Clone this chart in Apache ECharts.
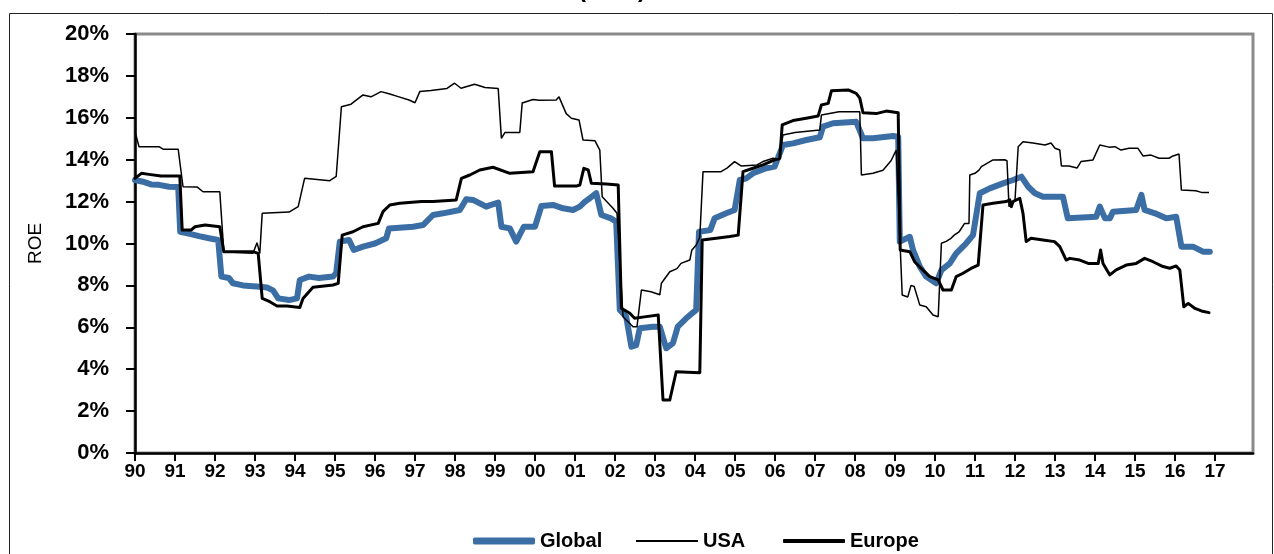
<!DOCTYPE html>
<html lang="en">
<head>
    <meta charset="UTF-8">
    <script src="https://cdn.jsdelivr.net/npm/echarts@6/dist/echarts.min.js"></script>
    <title>ROE</title>
    <style>
        html, body { margin: 0; padding: 0; background: #fff; }
        #main { width: 1274px; height: 554px; }
    </style>
</head>
<body>
    <div id="main"></div>
    <script>
        // [year, ROE %]
        var globalRoe = [
            [1990.0, 13.03], [1990.2, 12.95], [1990.4, 12.82], [1990.6, 12.8], [1990.85, 12.71], [1991.08, 12.7],
            [1991.13, 10.56], [1991.4, 10.45], [1991.6, 10.35], [1991.85, 10.25], [1992.08, 10.17],
            [1992.16, 8.42], [1992.35, 8.35], [1992.45, 8.1], [1992.7, 8.0], [1993.12, 7.94], [1993.3, 7.9],
            [1993.45, 7.76], [1993.58, 7.38], [1993.85, 7.3], [1994.05, 7.38], [1994.12, 8.26], [1994.35, 8.42],
            [1994.6, 8.35], [1994.95, 8.42], [1995.03, 8.6], [1995.12, 10.09], [1995.35, 10.17], [1995.47, 9.69],
            [1995.7, 9.85], [1996.0, 10.0], [1996.28, 10.25], [1996.35, 10.72], [1996.95, 10.8], [1997.2, 10.88],
            [1997.45, 11.36], [1997.7, 11.44], [1998.12, 11.6], [1998.28, 12.11], [1998.45, 12.08], [1998.78, 11.76],
            [1998.9, 11.84], [1999.08, 11.95], [1999.16, 10.8], [1999.37, 10.72], [1999.53, 10.09], [1999.72, 10.8],
            [2000.0, 10.8], [2000.16, 11.79], [2000.45, 11.84], [2000.7, 11.68], [2000.95, 11.6], [2001.12, 11.76],
            [2001.25, 12.0], [2001.37, 12.16], [2001.53, 12.4], [2001.66, 11.36], [2001.9, 11.2], [2002.03, 11.04],
            [2002.12, 6.83], [2002.28, 6.51], [2002.41, 5.07], [2002.53, 5.15], [2002.62, 5.95], [2002.95, 6.03],
            [2003.12, 6.03], [2003.28, 5.0], [2003.45, 5.25], [2003.57, 6.03], [2003.78, 6.43], [2004.03, 6.83],
            [2004.1, 10.56], [2004.38, 10.64], [2004.49, 11.2], [2004.78, 11.44], [2004.99, 11.6], [2005.12, 13.03],
            [2005.28, 13.11], [2005.45, 13.35], [2005.78, 13.59], [2005.99, 13.67], [2006.2, 14.7], [2006.45, 14.78],
            [2006.78, 14.94], [2007.12, 15.07], [2007.2, 15.58], [2007.45, 15.74], [2008.03, 15.81], [2008.2, 15.02],
            [2008.45, 15.02], [2008.95, 15.13], [2009.08, 15.1], [2009.12, 10.09], [2009.37, 10.32], [2009.45, 9.69],
            [2009.62, 8.9], [2009.78, 8.42], [2010.03, 8.1], [2010.16, 8.73], [2010.37, 9.05], [2010.53, 9.53],
            [2010.78, 10.01], [2010.95, 10.4], [2011.12, 12.4], [2011.37, 12.63], [2011.7, 12.87], [2011.95, 13.03],
            [2012.16, 13.19], [2012.33, 12.71], [2012.5, 12.4], [2012.7, 12.23], [2013.2, 12.23], [2013.32, 11.2],
            [2014.03, 11.28], [2014.12, 11.76], [2014.25, 11.2], [2014.37, 11.2], [2014.45, 11.52], [2015.03, 11.6],
            [2015.16, 12.32], [2015.24, 11.6], [2015.5, 11.44], [2015.78, 11.2], [2016.03, 11.28], [2016.16, 9.85],
            [2016.45, 9.85], [2016.7, 9.61], [2016.87, 9.61]
        ];
        var usaRoe = [
            [1990.0, 15.35], [1990.05, 15.3], [1990.1, 14.62], [1990.6, 14.62], [1990.7, 14.5], [1991.08, 14.5],
            [1991.2, 12.71], [1991.55, 12.7], [1991.7, 12.47], [1992.12, 12.47], [1992.22, 9.61], [1992.95, 9.53],
            [1993.05, 10.04], [1993.12, 9.53], [1993.18, 11.44], [1993.85, 11.5], [1994.08, 11.76], [1994.24, 13.11],
            [1994.87, 13.0], [1995.03, 13.2], [1995.16, 16.53], [1995.4, 16.65], [1995.7, 17.09], [1995.9, 17.0],
            [1996.15, 17.25], [1996.35, 17.15], [1996.6, 17.0], [1996.85, 16.85], [1997.0, 16.72], [1997.12, 17.25],
            [1997.4, 17.3], [1997.8, 17.4], [1997.99, 17.65], [1998.15, 17.41], [1998.49, 17.6], [1998.75, 17.45],
            [1999.08, 17.4], [1999.16, 15.02], [1999.25, 15.3], [1999.62, 15.3], [1999.68, 16.71], [1999.95, 16.87],
            [2000.1, 16.84], [2000.53, 16.85], [2000.6, 17.0], [2000.78, 16.2], [2000.91, 15.98], [2001.1, 15.9],
            [2001.2, 14.94], [2001.5, 14.9], [2001.62, 14.46], [2001.68, 12.23], [2001.95, 11.68], [2002.05, 11.44],
            [2002.2, 6.5], [2002.45, 6.03], [2002.55, 6.03], [2002.66, 7.78], [2002.9, 7.7], [2003.12, 7.55],
            [2003.16, 8.1], [2003.37, 8.65], [2003.55, 8.8], [2003.65, 9.05], [2003.87, 9.21], [2003.92, 9.68],
            [2004.03, 9.93], [2004.12, 10.3], [2004.2, 13.43], [2004.65, 13.43], [2004.8, 13.6], [2004.99, 13.91],
            [2005.15, 13.7], [2005.55, 13.75], [2005.7, 13.91], [2005.95, 14.07], [2006.1, 14.0], [2006.2, 15.18],
            [2006.5, 15.3], [2007.12, 15.42], [2007.16, 16.13], [2007.6, 16.29], [2008.12, 16.29], [2008.16, 13.27],
            [2008.45, 13.35], [2008.7, 13.5], [2008.9, 13.95], [2009.03, 14.46], [2009.18, 7.54], [2009.32, 7.45],
            [2009.4, 8.0], [2009.48, 7.95], [2009.62, 7.06], [2009.78, 6.98], [2009.95, 6.59], [2010.08, 6.5],
            [2010.16, 10.01], [2010.28, 10.1], [2010.4, 10.25], [2010.48, 10.4], [2010.6, 10.55], [2010.74, 10.96],
            [2010.85, 10.96], [2010.87, 13.27], [2011.0, 13.35], [2011.1, 13.5], [2011.16, 13.67], [2011.45, 13.99],
            [2011.74, 14.0], [2011.8, 13.95], [2011.85, 11.76], [2011.9, 11.92], [2012.0, 12.08], [2012.08, 14.62],
            [2012.2, 14.86], [2012.45, 14.8], [2012.75, 14.7], [2012.9, 14.8], [2013.0, 14.55], [2013.12, 14.46],
            [2013.16, 13.7], [2013.35, 13.7], [2013.55, 13.6], [2013.65, 13.91], [2013.95, 13.99], [2014.12, 14.7],
            [2014.35, 14.6], [2014.5, 14.62], [2014.65, 14.46], [2014.85, 14.55], [2015.07, 14.55], [2015.2, 14.18],
            [2015.4, 14.22], [2015.6, 14.07], [2015.85, 14.07], [2015.95, 14.18], [2016.1, 14.27], [2016.16, 12.55],
            [2016.52, 12.52], [2016.66, 12.44], [2016.85, 12.44]
        ];
        var europeRoe = [
            [1990.0, 13.11], [1990.16, 13.35], [1990.35, 13.3], [1990.65, 13.22], [1991.12, 13.22], [1991.18, 10.64],
            [1991.4, 10.64], [1991.5, 10.8], [1991.75, 10.88], [1992.12, 10.8], [1992.22, 9.61], [1992.95, 9.61],
            [1993.08, 9.53], [1993.18, 7.38], [1993.37, 7.22], [1993.55, 7.02], [1993.8, 7.02], [1994.12, 6.95],
            [1994.2, 7.38], [1994.45, 7.91], [1994.95, 8.02], [1995.08, 8.1], [1995.18, 10.4], [1995.45, 10.56],
            [1995.7, 10.8], [1996.08, 10.96], [1996.2, 11.52], [1996.37, 11.84], [1996.62, 11.92], [1997.16, 12.0],
            [1997.45, 12.0], [1998.03, 12.08], [1998.16, 13.11], [1998.37, 13.27], [1998.62, 13.51], [1998.95, 13.64],
            [1999.37, 13.35], [1999.95, 13.43], [2000.12, 14.38], [2000.41, 14.38], [2000.49, 12.74], [2001.03, 12.74],
            [2001.12, 12.79], [2001.22, 13.59], [2001.33, 13.51], [2001.41, 12.87], [2001.78, 12.84], [2002.08, 12.79],
            [2002.16, 6.91], [2002.37, 6.67], [2002.49, 6.43], [2002.78, 6.51], [2003.08, 6.59], [2003.2, 2.53],
            [2003.37, 2.53], [2003.53, 3.88], [2004.12, 3.83], [2004.18, 10.17], [2004.53, 10.25], [2004.87, 10.33],
            [2005.08, 10.4], [2005.2, 13.43], [2005.45, 13.59], [2005.7, 13.75], [2005.99, 13.99], [2006.12, 14.07],
            [2006.18, 15.66], [2006.45, 15.87], [2006.78, 15.98], [2007.08, 16.09], [2007.16, 16.61], [2007.33, 16.69],
            [2007.41, 17.29], [2007.83, 17.33], [2008.03, 17.17], [2008.12, 16.94], [2008.2, 16.24], [2008.53, 16.2],
            [2008.78, 16.32], [2009.08, 16.24], [2009.13, 9.69], [2009.37, 9.61], [2009.49, 9.13], [2009.7, 8.73],
            [2009.87, 8.42], [2010.08, 8.26], [2010.2, 7.78], [2010.41, 7.78], [2010.53, 8.42], [2010.7, 8.58],
            [2010.9, 8.81], [2011.08, 8.97], [2011.2, 11.84], [2011.45, 11.92], [2011.78, 12.0], [2011.87, 12.08],
            [2011.91, 11.76], [2011.95, 12.0], [2012.12, 12.16], [2012.2, 11.44], [2012.28, 10.09], [2012.4, 10.25],
            [2012.7, 10.17], [2012.99, 10.09], [2013.12, 9.85], [2013.28, 9.21], [2013.37, 9.29], [2013.62, 9.21],
            [2013.83, 9.05], [2014.08, 9.05], [2014.14, 9.69], [2014.2, 9.05], [2014.37, 8.5], [2014.53, 8.74],
            [2014.78, 8.97], [2015.03, 9.05], [2015.24, 9.29], [2015.45, 9.13], [2015.7, 8.9], [2015.87, 8.82],
            [2016.03, 8.93], [2016.12, 8.74], [2016.22, 6.98], [2016.33, 7.14], [2016.5, 6.9], [2016.66, 6.78],
            [2016.85, 6.7]
        ];
        var seriesNames = ['Global', 'USA', 'Europe'];

        var font = "'Liberation Sans', Arial, sans-serif";
        var legendText = { fontFamily: font, fontWeight: 'bold', fontSize: 20, color: '#000' };

        // one legend block per series so each key can have its own line thickness
        function legendFor(name, left, h, color) {
            return {
                data: [{ name: name, icon: h > 3 ? 'roundRect' : 'rect', itemStyle: { color: color, borderWidth: 0 } }],
                left: left,
                top: 531,
                padding: 0,
                itemWidth: 62,
                itemHeight: h,
                textStyle: legendText
            };
        }

        var chart = echarts.init(document.getElementById('main'));
        var option = {
            animation: false,
            backgroundColor: '#fff',
            graphic: [
                {
                    type: 'rect',
                    shape: { x: 9.5, y: 13.5, width: 1263, height: 600 },
                    style: { fill: 'none', stroke: '#222', lineWidth: 1 },
                    silent: true
                },
                {
                    type: 'text',
                    left: 578,
                    top: -22,
                    style: { text: '(ROE)', font: 'bold 24px ' + font, fill: '#000' },
                    silent: true
                }
            ],
            grid: {
                left: 135,
                right: 21,
                top: 34,
                bottom: 101,
                show: true,
                borderColor: '#8a8a8a',
                borderWidth: 3
            },
            legend: [
                legendFor(seriesNames[0], 473, 7, '#3a6ea5'),
                legendFor(seriesNames[1], 636, 2, '#000'),
                legendFor(seriesNames[2], 783, 4, '#000')
            ],
            xAxis: {
                type: 'value',
                min: 1990,
                max: 2017.95,
                interval: 1,
                splitLine: { show: false },
                axisLine: { lineStyle: { color: '#000', width: 2.5 } },
                axisTick: { length: 8, lineStyle: { color: '#000', width: 2 } },
                axisLabel: {
                    margin: 9,
                    showMaxLabel: false,
                    color: '#000',
                    fontFamily: font,
                    fontWeight: 'bold',
                    fontSize: 19,
                    formatter: function (v) {
                        return v > 2017.5 ? '' : String(Math.round(v)).slice(2);
                    }
                }
            },
            yAxis: {
                type: 'value',
                min: 0,
                max: 20,
                interval: 2,
                name: 'ROE',
                nameLocation: 'middle',
                nameGap: 90,
                nameTextStyle: { color: '#000', fontFamily: font, fontSize: 19 },
                splitLine: { show: false },
                axisLine: { show: true, lineStyle: { color: '#000', width: 2.5 } },
                axisTick: { show: true, length: 9, lineStyle: { color: '#000', width: 2 } },
                axisLabel: {
                    margin: 26,
                    color: '#000',
                    fontFamily: font,
                    fontWeight: 'bold',
                    fontSize: 22,
                    formatter: '{value}%'
                }
            },
            series: [
                {
                    name: 'Global',
                    type: 'line',
                    symbol: 'none',
                    data: globalRoe,
                    lineStyle: { color: '#3a6ea5', width: 6, cap: 'round', join: 'round' },
                    itemStyle: { color: '#3a6ea5' }
                },
                {
                    name: 'USA',
                    type: 'line',
                    symbol: 'none',
                    data: usaRoe,
                    lineStyle: { color: '#000', width: 1.5 },
                    itemStyle: { color: '#000' }
                },
                {
                    name: 'Europe',
                    type: 'line',
                    symbol: 'none',
                    data: europeRoe,
                    lineStyle: { color: '#000', width: 3, cap: 'round', join: 'round' },
                    itemStyle: { color: '#000' }
                }
            ]
        };
        chart.setOption(option);
    </script>
</body>
</html>
